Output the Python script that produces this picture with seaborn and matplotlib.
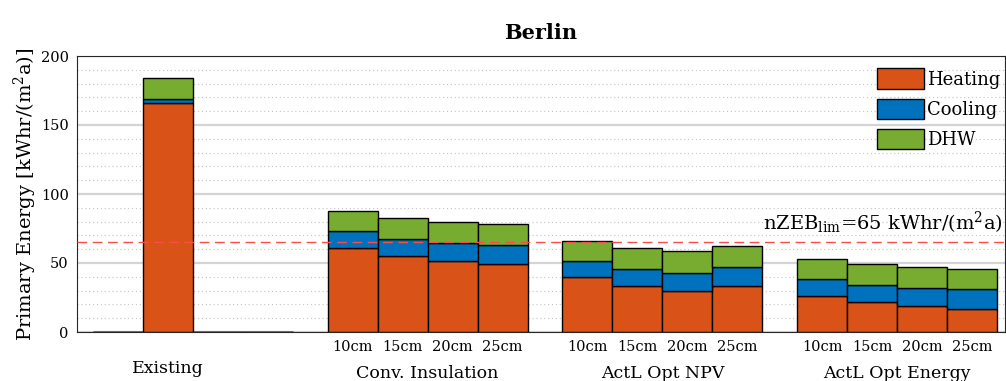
import matplotlib
matplotlib.use("Agg")
import matplotlib.pyplot as plt
import seaborn as sns
import numpy as np

# ---- data ----
groups = ["Existing", "Conv. Insulation", "ActL Opt NPV", "ActL Opt Energy"]
thickness = ["10cm", "15cm", "20cm", "25cm"]
heating = [[0, 166, 0, 0], [61, 55, 51.4, 49], [39.6, 33.1, 29.9, 33.1], [26.3, 21.5, 18.6, 16.9]]
cooling = [[0, 3, 0, 0], [12, 12.3, 13.3, 14], [11.6, 12.8, 13.1, 13.7], [11.8, 12.5, 13.3, 14]]
dhw = [[0, 15, 0, 0], [15, 15.5, 15, 15], [14.9, 14.9, 15.4, 15.2], [14.8, 15, 15.2, 15]]
series_names = ["Heating", "Cooling", "DHW"]
colors = ["#D95319", "#0072BD", "#77AC30"]
nzeb_limit = 65

sns.set_style("white")
plt.rcParams["font.family"] = ["DejaVu Serif"]
plt.rcParams["mathtext.fontset"] = "dejavuserif"
for key in ["text.color", "axes.labelcolor", "xtick.color", "ytick.color"]:
    plt.rcParams[key] = "black"

fig = plt.figure(figsize=(10.06, 3.81), dpi=100)
ax = fig.add_axes([77 / 1006, 1 - 332 / 381, 928 / 1006, 276 / 381])

group_step = 4.7
positions = []
for g in range(len(groups)):
    for s in range(len(thickness)):
        positions.append(g * group_step + s)
positions = np.array(positions)

h = np.array(heating).ravel()
c = np.array(cooling).ravel()
d = np.array(dhw).ravel()

ax.bar(positions, h, width=1.0, color=colors[0], edgecolor="black", linewidth=1, label=series_names[0], zorder=2)
ax.bar(positions, c, width=1.0, bottom=h, color=colors[1], edgecolor="black", linewidth=1, label=series_names[1], zorder=2)
ax.bar(positions, d, width=1.0, bottom=h + c, color=colors[2], edgecolor="black", linewidth=1, label=series_names[2], zorder=2)

ax.axhline(nzeb_limit, color="#ff4a4a", lw=1, dashes=(7, 4), zorder=3)
ax.text(0.998, 73.9, r"nZEB$_{\mathrm{lim}}$=65 kWhr/(m$^2$a)", transform=ax.get_yaxis_transform(),
        ha="right", va="baseline", fontsize=14, zorder=4)

ax.set_xlim(-0.82, 17.76)
ax.set_ylim(0, 200)
ax.set_yticks([0, 50, 100, 150, 200])
ax.set_yticks(np.arange(0, 201, 10), minor=True)
ax.tick_params(axis="y", which="major", direction="out", length=3, width=0.8, pad=3, labelsize=10.5)
ax.tick_params(axis="y", which="minor", length=0)
ax.yaxis.grid(True, which="major", color="#d4d4d4", lw=1.6, zorder=0)
ax.yaxis.grid(True, which="minor", color="#c4c4c4", lw=0.8, linestyle=(0, (1, 2.5)), zorder=0)
ax.set_axisbelow(True)

tick_pos = positions[4:]
tick_lab = thickness * (len(groups) - 1)
ax.set_xticks(tick_pos)
ax.set_xticklabels(tick_lab)
ax.tick_params(axis="x", length=0, pad=6, labelsize=10.5)

for g, name in enumerate(groups):
    cx = g * group_step + 1.5 if g > 0 else 1.0
    yb = -0.1667 if g > 0 else -0.1486
    ax.text(cx, yb, name, transform=ax.get_xaxis_transform(), ha="center", va="baseline", fontsize=12.5)

ax.set_ylabel("Primary Energy [kWhr/(m$^2$a)]", fontsize=14, labelpad=1)
ax.set_title("Berlin", fontsize=15, fontweight="bold", pad=12)

for sp in ax.spines.values():
    sp.set_color("#262626")
    sp.set_linewidth(0.8)

ax.legend(loc="upper left", bbox_to_anchor=(0.862, 0.955), frameon=False, fontsize=13,
          handlelength=2.6, handleheight=1.35, handletextpad=0.15, labelspacing=0.55,
          borderaxespad=0, borderpad=0)

fig.savefig("out.png", dpi=100)
